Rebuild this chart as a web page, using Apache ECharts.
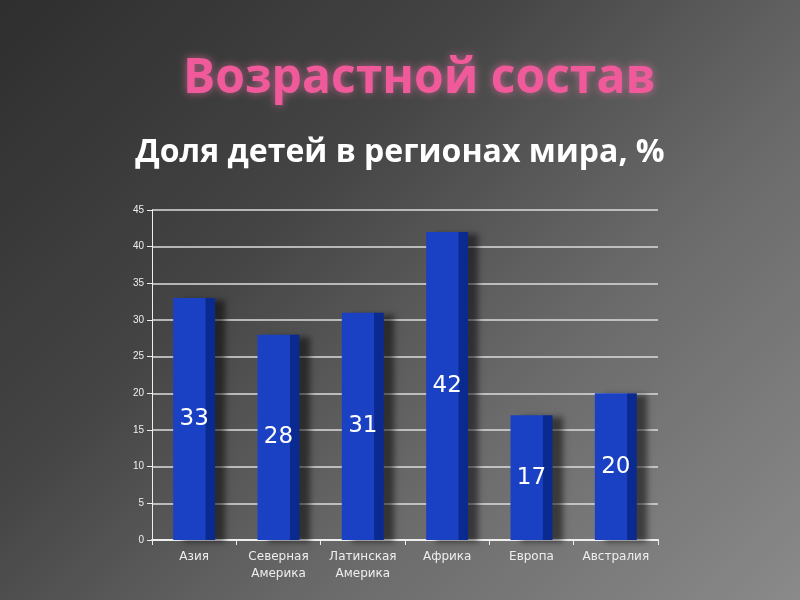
<!DOCTYPE html>
<html><head><meta charset="utf-8">
<script src="https://cdn.jsdelivr.net/npm/echarts@6/dist/echarts.min.js"></script>
<style>html,body{margin:0;padding:0;}#c{width:800px;height:600px;background:linear-gradient(135deg,#2e2e2e 0%,#444 35%,#6a6a6a 65%,#8a8a8a 100%);}</style>
</head><body><div id="c"></div>
<script>
const categories = ['Азия','Северная\nАмерика','Латинская\nАмерика','Африка','Европа','Австралия'];
const values = [33,28,31,42,17,20];
const yTicks = [0,5,10,15,20,25,30,35,40,45];
const chart = echarts.init(document.getElementById('c'));
chart.setOption({
  title:[
    {text:'Возрастной состав',left:178,top:50,textStyle:{color:'#f05a9a',fontSize:48,fontWeight:'bold',fontFamily:'Open Sans',textShadowColor:'rgba(255,120,180,0.6)',textShadowBlur:8}},
    {text:'Доля детей в регионах мира, %',left:'center',top:132,textStyle:{color:'#fff',fontSize:32,fontWeight:'bold',fontFamily:'Open Sans'}}
  ],
  grid:{left:152,right:142,top:210,bottom:60},
  xAxis:{type:'category',data:categories,axisLine:{lineStyle:{color:'#eee',width:2}},axisTick:{show:true,lineStyle:{color:'#eee'}},
    axisLabel:{color:'#eee',fontSize:12,fontFamily:'DejaVu Sans',lineHeight:17,interval:0}},
  yAxis:{type:'value',min:0,max:45,interval:5,axisLine:{show:true,lineStyle:{color:'#eee'}},axisTick:{show:true},
    axisLabel:{color:'#eee',fontSize:10},splitLine:{lineStyle:{color:'#ddd',width:1.5}}},
  series:[{type:'bar',data:values,barWidth:42,
    itemStyle:{color:{type:'linear',x:0,y:0,x2:1,y2:0,colorStops:[{offset:0,color:'#1a40c4'},{offset:0.76,color:'#1a40c4'},{offset:0.78,color:'#0b2a90'},{offset:1,color:'#0b2a90'}]},
      shadowColor:'rgba(0,0,0,0.5)',shadowOffsetX:10,shadowOffsetY:2,shadowBlur:6},
    label:{show:true,position:'inside',color:'#fff',fontSize:23,fontFamily:'DejaVu Sans'}}]
});
</script></body></html>
